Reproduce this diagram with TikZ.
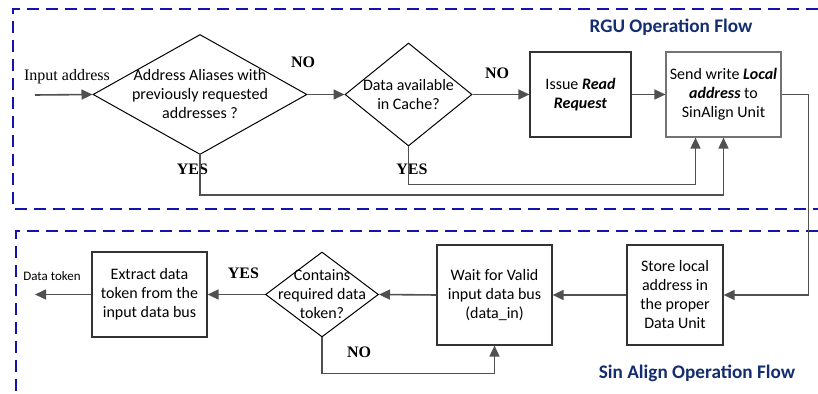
\documentclass[tikz,border=0pt]{standalone}
\usepackage{fontspec}
\setmainfont{Carlito}
\newfontfamily\yesnofont{Liberation Serif}
\usetikzlibrary{shapes.geometric,arrows.meta}
\begin{document}
\begin{tikzpicture}[x=0.5pt,y=-0.5pt,
  box/.style={draw=black!80, line width=0.6pt, rectangle, align=center, inner sep=0pt, font=\fontsize{8}{9.5}\selectfont},
  decision/.style={draw=black, line width=0.5pt, diamond, inner sep=0pt},
  decisiontext/.style={align=center, inner sep=0pt, font=\fontsize{8}{9.5}\selectfont},
  flow/.style={draw=linegrey, line width=0.8pt, -{Triangle[length=5.5pt,width=5pt]}},
  answer/.style={font=\yesnofont\bfseries\fontsize{8}{9}\selectfont},
  flowtitle/.style={text=titleblue, font=\bfseries\fontsize{9.6}{11}\selectfont},
  region/.style={draw=regionblue, line width=0.75pt, dash pattern=on 6pt off 3.5pt}]
\definecolor{linegrey}{RGB}{80,80,80}
\definecolor{regionblue}{RGB}{20,20,170}
\definecolor{titleblue}{RGB}{20,45,110}
\useasboundingbox (0,0) rectangle (818,394);
\draw[region] (818,9) -- (13,9) -- (13,209) -- (818,209);
\draw[region] (818,231) -- (16,231) -- (16,394);
\node[flowtitle] (rgutitle) at (671,27) {RGU Operation Flow};
\node[flowtitle] (sintitle) at (697,373) {Sin Align Operation Flow};
\node[font=\yesnofont\fontsize{8}{9}\selectfont] (inaddr) at (67,77) {Input address};
\coordinate (instart) at (35,95);
\node[decision, minimum width=107pt, minimum height=60pt] (alias) at (200,94.5) {};
\node[decisiontext] (aliastext) at (alias.center) {Address Aliases with\\previously requested\\addresses ?};
\node[decision, minimum width=63.5pt, minimum height=51.5pt] (cache) at (408.5,94.5) {};
\node[decisiontext] (cachetext) at (cache.center) {Data available\\in Cache?};
\node[box, minimum width=50.5pt, minimum height=42.5pt] (issue) at (580.5,94.5) {Issue \textbf{\textit{Read}}\\\textbf{\textit{Request}}};
\node[box, draw=black!55, minimum width=57.5pt, minimum height=42.5pt] (send) at (723.5,94.5) {Send write \textbf{\textit{Local}}\\\textbf{\textit{address}} to\\SinAlign Unit};
\node[box, minimum width=48pt, minimum height=50pt] (store) at (675,295) {Store local\\address in\\the proper\\Data Unit};
\node[box, minimum width=57.5pt, minimum height=50pt] (wait) at (494.5,295) {Wait for Valid\\input data bus\\(data\_in)};
\node[decision, minimum width=56.5pt, minimum height=42.5pt] (contain) at (322,294.5) {};
\node[decisiontext] (containtext) at (contain.center) {Contains\\required data\\token?};
\node[box, minimum width=57.5pt, minimum height=42.5pt] (extract) at (149.5,294.5) {Extract data\\token from the\\input data bus};
\coordinate (outend) at (35,294.5);
\node[font=\fontsize{6.5}{8}\selectfont] (outtoken) at (52,276) {Data token};
\node[answer] (no1) at (303,62) {NO};
\node[answer] (yes1) at (192.5,169) {YES};
\node[answer] (no2) at (497,73) {NO};
\node[answer] (yes2) at (412,169) {YES};
\node[answer] (yes3) at (243.5,273) {YES};
\node[answer] (no3) at (359,352) {NO};
\draw[flow] (instart) -- (alias.west);
\draw[flow] (alias.east) -- (cache.west);
\draw[flow] (cache.east) -- (issue.west);
\draw[flow] (issue.east) -- (send.west);
\draw[flow] (alias.south) -- ++(0,40) -| (send.south);
\draw[flow] (cache.south) -- ++(0,38) -| ([xshift=-14pt]send.south);
\draw[flow] (send.east) -- ++(27,0) |- (store.east);
\draw[flow] (store.west) -- (wait.east);
\draw[flow] (wait.west) -- (contain.east);
\draw[flow] (contain.south) -- ++(0,36) -| (wait.south);
\draw[flow] (contain.west) -- (extract.east);
\draw[flow] (extract.west) -- (outend);
\end{tikzpicture}
\end{document}
